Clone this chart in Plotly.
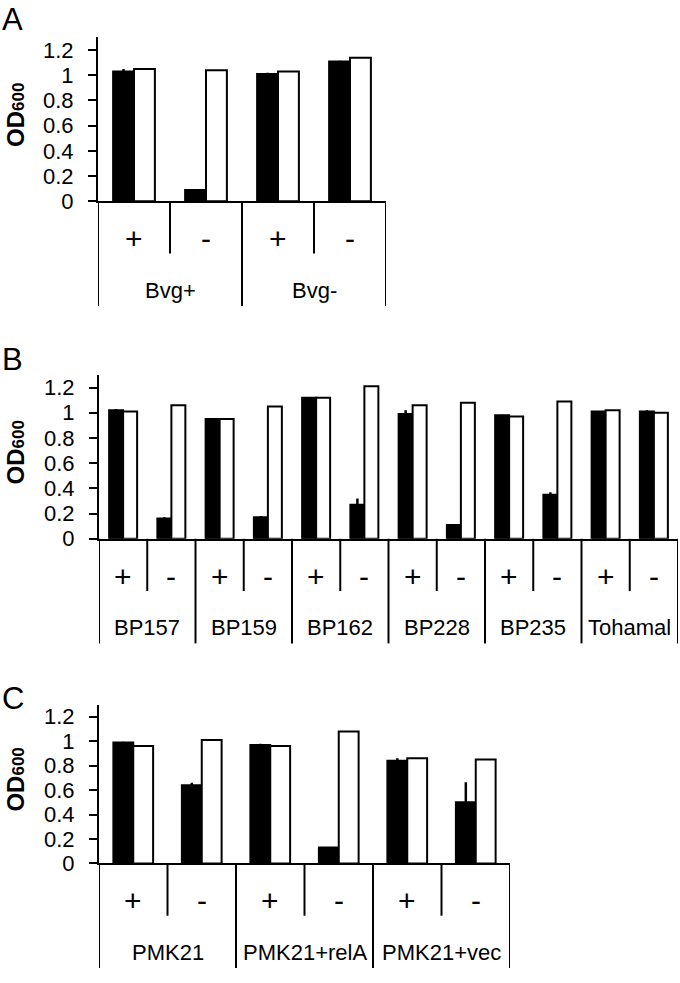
import plotly.graph_objects as go

# ---------------- data ----------------
signs = ["+", "-"]

groupsA = ["Bvg+", "Bvg-"]
blackA = [1.03, 0.09, 1.01, 1.11]
errA = [0.02, 0.005, 0.01, 0.005]
whiteA = [1.05, 1.04, 1.03, 1.14]

groupsB = ["BP157", "BP159", "BP162", "BP228", "BP235", "Tohamal"]
blackB = [1.02, 0.16, 0.95, 0.17, 1.12, 0.27, 0.99, 0.11, 0.98, 0.35, 1.01, 1.01]
errB = [0.01, 0.01, 0.005, 0.01, 0.005, 0.05, 0.03, 0.005, 0.005, 0.02, 0.005, 0.01]
whiteB = [1.01, 1.06, 0.95, 1.05, 1.12, 1.21, 1.06, 1.08, 0.97, 1.09, 1.02, 1.00]

groupsC = ["PMK21", "PMK21+relA", "PMK21+vec"]
blackC = [0.99, 0.64, 0.97, 0.13, 0.84, 0.50]
errC = [0.005, 0.02, 0.01, 0.005, 0.02, 0.165]
whiteC = [0.96, 1.01, 0.96, 1.08, 0.86, 0.85]

yticks = [0, 0.2, 0.4, 0.6, 0.8, 1, 1.2]
panel_letters = ["A", "B", "C"]

# ---------------- layout geometry (pixels) ----------------
W, H = 680, 983
FONT = "Liberation Sans, Arial, sans-serif"
panels = [
    dict(groups=groupsA, black=blackA, err=errA, white=whiteA, l=98, r=386, t=38, b=204, letter_top=0),
    dict(groups=groupsB, black=blackB, err=errB, white=whiteB, l=99, r=678, t=380, b=546, letter_top=345),
    dict(groups=groupsC, black=blackC, err=errC, white=whiteC, l=99, r=510, t=714, b=875, letter_top=688),
]


def px(xp):
    return xp / W


def py(yp):
    return 1 - yp / H


fig = go.Figure()
shapes = []
annotations = []

for k, p in enumerate(panels):
    sfx = "" if k == 0 else str(k + 1)
    xa, ya = "x" + sfx, "y" + sfx
    n = len(p["black"])
    xs = list(range(n))
    fig.add_trace(go.Bar(
        x=xs, y=p["black"], xaxis=xa, yaxis=ya, offsetgroup="black",
        marker=dict(color="black", line=dict(color="black", width=2)),
        error_y=dict(type="data", array=p["err"], visible=True, color="black",
                     thickness=2.5, width=0),
        showlegend=False,
    ))
    fig.add_trace(go.Bar(
        x=xs, y=p["white"], xaxis=xa, yaxis=ya, offsetgroup="white",
        marker=dict(color="white", line=dict(color="black", width=2)),
        showlegend=False,
    ))
    fig.layout["xaxis" + sfx] = dict(
        domain=[px(p["l"]), px(p["r"])], anchor=ya, range=[-0.5, n - 0.5],
        showticklabels=False, ticks="", showline=True, linecolor="black",
        linewidth=2, showgrid=False, zeroline=False, fixedrange=True,
    )
    fig.layout["yaxis" + sfx] = dict(
        domain=[py(p["b"]), py(p["t"])], anchor=xa, range=[0, 1.3],
        tickvals=yticks, ticks="outside", ticklen=8, tickwidth=2,
        tickcolor="black", showline=True, linecolor="black", linewidth=2,
        showgrid=False, zeroline=False, fixedrange=True,
        tickfont=dict(family=FONT, size=22, color="black"),
        ticklabelstandoff=10,
    )
    # separators and labels below the axis
    for bnd in range(n + 1):
        is_group = (bnd % 2 == 0)
        depth = 106 if is_group else 53
        shapes.append(dict(type="line", xref=xa, yref="paper",
                           x0=bnd - 0.5, x1=bnd - 0.5,
                           y0=py(p["b"]), y1=py(p["b"] + depth),
                           line=dict(color="black", width=2)))
    for i in range(n):
        annotations.append(dict(xref=xa, yref="paper", x=i, y=py(p["b"] + 38),
                                text=signs[i % 2], showarrow=False,
                                xanchor="center", yanchor="middle",
                                font=dict(family=FONT, size=30, color="black")))
    for g, name in enumerate(p["groups"]):
        annotations.append(dict(xref=xa, yref="paper", x=2 * g + 0.5,
                                y=py(p["b"] + 90), text=name, showarrow=False,
                                xanchor="center", yanchor="middle",
                                font=dict(family=FONT, size=22, color="black")))
    # y-axis title
    annotations.append(dict(xref="paper", yref="paper", x=0,
                            y=py((p["t"] + p["b"]) / 2 - 4),
                            text="<b>OD<span style='font-size:17px'>600</span></b>",
                            textangle=-90, showarrow=False, xanchor="left",
                            yanchor="middle",
                            font=dict(family=FONT, size=24, color="black")))
    # panel letter
    annotations.append(dict(xref="paper", yref="paper", x=0,
                            y=py(p["letter_top"]), text=panel_letters[k],
                            showarrow=False, xanchor="left", yanchor="top",
                            font=dict(family=FONT, size=31, color="black")))

fig.update_layout(
    width=W, height=H, margin=dict(l=0, r=0, t=0, b=0),
    paper_bgcolor="white", plot_bgcolor="white",
    barmode="group", bargap=0.42, bargroupgap=0,
    shapes=shapes, annotations=annotations, showlegend=False,
)

fig.write_html(
    "out.html",
    config={"displayModeBar": False},
    post_script="document.body.style.margin='0px';document.body.style.overflow='hidden';",
)
